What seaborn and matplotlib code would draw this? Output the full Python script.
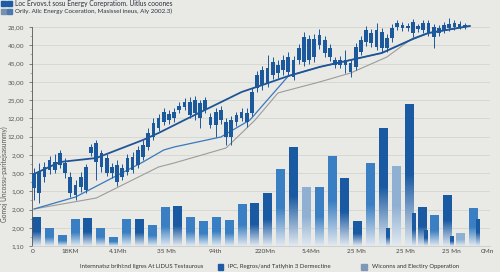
import numpy as np
import pandas as pd
import seaborn as sns
import matplotlib.pyplot as plt
from matplotlib.colors import LinearSegmentedColormap
from matplotlib.patches import Rectangle

# dados ----------------------------------------------------------------------------------
opens = [58, 74, 69, 76, 84, 81, 83, 69, 61, 59, 56, 93, 103, 93, 88, 73, 81, 69, 74, 76,
         81, 89, 99, 109, 118, 124, 132, 128, 136, 139, 144, 133, 143, 136, 129, 134, 126, 124, 109, 124,
         128, 133, 133, 158, 161, 163, 171, 181, 176, 174, 186, 186, 184, 207, 189, 201, 206, 198, 181, 186,
         181, 183, 179, 194, 204, 213, 199, 214, 198, 208, 219, 221, 218, 213, 217, 216, 223, 209, 218, 216,
         218, 219, 222, 219]
closes = [73, 53, 79, 86, 76, 93, 73, 53, 51, 69, 79, 99, 84, 79, 73, 79, 64, 78, 88, 89,
          96, 101, 113, 123, 128, 134, 126, 134, 140, 144, 131, 146, 128, 146, 121, 121, 136, 109, 126, 131,
          134, 124, 154, 171, 176, 178, 184, 173, 186, 189, 169, 198, 209, 186, 207, 211, 193, 189, 186, 181,
          186, 174, 199, 206, 216, 203, 216, 198, 208, 218, 223, 218, 220, 224, 220, 223, 213, 219, 213, 221,
          222, 223, 219, 221]
highs = [78, 83, 84, 90, 92, 96, 88, 74, 66, 74, 82, 102, 106, 96, 92, 83, 86, 82, 92, 94,
         100, 106, 118, 128, 132, 138, 136, 138, 144, 148, 149, 150, 146, 149, 133, 138, 140, 128, 130, 134,
         138, 138, 158, 175, 180, 191, 189, 186, 191, 194, 190, 202, 214, 211, 212, 217, 210, 202, 189, 190,
         196, 186, 203, 210, 220, 217, 223, 218, 212, 222, 226, 224, 223, 227, 222, 226, 226, 222, 221, 224,
         228, 226, 225, 223]
lows = [46, 43, 64, 72, 73, 78, 68, 49, 46, 54, 53, 90, 66, 74, 70, 68, 60, 66, 71, 73,
        78, 86, 96, 106, 115, 121, 122, 124, 133, 136, 128, 126, 118, 133, 118, 109, 122, 101, 101, 120,
        125, 119, 130, 154, 156, 159, 167, 168, 171, 170, 166, 182, 180, 182, 184, 197, 189, 185, 178, 178,
        173, 169, 176, 191, 200, 199, 196, 194, 194, 204, 216, 215, 215, 209, 214, 213, 210, 198, 210, 213,
        215, 216, 217, 217]

# medias moveis (posicao do pregao, valor)
ma_rapida_x = [0, 5, 12, 21, 24, 29, 40, 44, 49, 55, 61, 67, 73, 76, 84]
ma_rapida_y = [72, 84, 88, 106, 113, 126, 154, 161, 170, 179, 186, 193, 207, 213, 220]
ma_media_x = [0, 8, 21, 25, 27, 36, 41.6, 48, 49, 55, 61, 67, 73, 76, 84]
ma_media_y = [37, 49, 84, 96, 99, 109, 126, 164, 170, 179, 186, 193, 207, 213, 220]
ma_lenta_x = [0, 12, 24, 27, 37, 42.6, 47, 48.4, 55, 61, 68, 73, 76, 84]
ma_lenta_y = [37, 48, 79, 83, 98, 126, 153, 155, 164, 173, 189, 208, 213, 220]

# volume
volume = [29, 18, 11, 27, 28, 18, 9, 27, 27, 21, 39, 40, 29, 25, 29, 26, 42, 43, 53, 77,
          99, 59, 59, 90, 68, 25, 83, 118, 80, 142, 39, 31, 51, 13, 38]
tipo_vol = ['d', 'm', 'm', 'm', 'd', 'm', 'm', 'm', 'd', 'm', 'm', 'd', 'm', 'm', 'm', 'm', 'm', 'd', 'd', 'm',
            'd', 'l', 'm', 'm', 'd', 'd', 'm', 'd', 'l', 'd', 'd', 'm', 'd', 'l', 'm']
volume_extra = {27: 18, 29: 33, 30: 16, 32: 10, 34: 27}

y_labels = ['1,10', '2,00', '2,00', '1,00', '3,00', '2,00', '12,00', '12,00',
            '25,00', '30,00', '45,00', '40,00', '28,00']
x_labels = ['0', '18KM', '4.1Mh', '35 Mh', '94th', '220Mn', '5.4Mn', '25 Mh', '25 Mh', '25 Mn', '0Mn']
x_ticks = [-0.35, 6.9, 16.2, 25.6, 34.9, 44.5, 53.4, 62.2, 71.5, 80.4, 87.3]

# estilo ---------------------------------------------------------------------------------
bg = '#e9e9e5'
azul_escuro = '#1b589c'
cores_vol = {'d': '#1a5aa2', 'm': '#3a7fc3', 'l': '#8fb0d3'}

sns.set_theme(style='white')
plt.rcParams['font.family'] = ['Lato', 'DejaVu Sans']

fig = plt.figure(figsize=(5, 2.72), dpi=100, facecolor=bg)
ax = fig.add_axes([32 / 500, 26 / 272, 458 / 500, 231 / 272])
ax.set_facecolor(bg)

y_ticks = np.linspace(0, 219, 13)
for yt in y_ticks:
    ax.axhline(yt, color='#d5d5d0', lw=0.6, zorder=0)


# barras de volume com degrade
def barra_degrade(x, h, w, cor, z=2):
    rect = ax.bar(x, h, width=w, color=cor, edgecolor='none', zorder=z)[0]
    cmap = LinearSegmentedColormap.from_list('g', [(0, '#e2e9f0'), (0.5, cor), (1, cor)])
    grad = np.linspace(0, 1, 128).reshape(-1, 1)
    im = ax.imshow(grad, cmap=cmap, aspect='auto', origin='lower',
                   extent=(x - w / 2, x + w / 2, 0, h), zorder=z)
    im.set_clip_path(rect)


passo = 2.476
for i, (v, t) in enumerate(zip(volume, tipo_vol)):
    barra_degrade(0.39 + passo * i, v, 1.55, cores_vol[t])
for i, v in volume_extra.items():
    barra_degrade(0.39 + passo * i + 0.9, v, 0.7, cores_vol['d'], z=2.5)

# medias moveis
df_lenta = pd.DataFrame({'x': ma_lenta_x, 'y': ma_lenta_y})
df_media = pd.DataFrame({'x': ma_media_x, 'y': ma_media_y})
df_rapida = pd.DataFrame({'x': ma_rapida_x, 'y': ma_rapida_y})
sns.lineplot(data=df_lenta, x='x', y='y', color='#9c9c9c', lw=0.8, ax=ax, zorder=3)
sns.lineplot(data=df_media, x='x', y='y', color='#3a78bd', lw=0.9, ax=ax, zorder=3)
sns.lineplot(data=df_rapida, x='x', y='y', color='#1f5596', lw=1.3, ax=ax, zorder=3.2)

# candles
idx = np.arange(len(opens))
o = np.array(opens)
c = np.array(closes)
ax.vlines(idx, lows, highs, color=azul_escuro, lw=0.7, zorder=4)
ax.bar(idx, np.abs(c - o), bottom=np.minimum(o, c), width=0.72, color=azul_escuro,
       edgecolor='none', zorder=4.1)

# eixos
ax.set_xlim(-0.385, 87.86)
ax.set_ylim(0, 231)
ax.set_yticks(y_ticks)
ax.set_yticklabels(y_labels)
ax.set_yticks(y_ticks[:-1] + 219 / 24, minor=True)
ax.set_xticks(x_ticks)
ax.set_xticklabels(x_labels)
ax.tick_params(axis='y', which='major', length=2.5, width=0.5, color='#555555', pad=3,
               labelsize=4.6, labelcolor='#555555', left=True)
ax.tick_params(axis='y', which='minor', length=1.4, width=0.4, color='#777777', left=True)
ax.tick_params(axis='x', length=0, pad=2.5, labelsize=4.6, labelcolor='#444444')
ax.set_xlabel('')
ax.set_ylabel('Gomoj Uncossu-paritejsasummy)', fontsize=4.8, color='#555555')
ax.yaxis.set_label_coords(-0.052, 0.31)
for s in ['top', 'right']:
    ax.spines[s].set_visible(False)
ax.spines['left'].set_color('#555555')
ax.spines['left'].set_linewidth(0.6)
ax.spines['left'].set_bounds(0, 219)
ax.spines['bottom'].set_color('#c4c4c0')
ax.spines['bottom'].set_linewidth(0.5)

# titulo com quadrados
fig.patches.append(Rectangle((1 / 500, 1 - 6 / 272), 5 / 500, 5 / 272, color='#1f5aa5', transform=fig.transFigure))
fig.patches.append(Rectangle((7 / 500, 1 - 6 / 272), 5 / 500, 5 / 272, color='#1f5aa5', transform=fig.transFigure))
fig.patches.append(Rectangle((1 / 500, 1 - 14 / 272), 5 / 500, 5 / 272, color='#7890ad', transform=fig.transFigure))
fig.patches.append(Rectangle((7 / 500, 1 - 14 / 272), 5 / 500, 5 / 272, color='#4b79ad', transform=fig.transFigure))
fig.text(15 / 500, 1 - 3.5 / 272, 'Loc Ervovs.t sosu Energy Corepratiom. Uitlus cooones',
         fontsize=4.8, color='#2b3142', va='center', ha='left')
fig.text(15 / 500, 1 - 11.5 / 272, 'Orily. Allc Energy Coceration, Masissel ineus, Aly 2002.3)',
         fontsize=4.5, color='#2b3142', va='center', ha='left')

# legenda inferior
fig.text(80 / 500, 1 - 266.5 / 272, 'Internnatsz brihl:nd ligres At LIDUS Testaurous',
         fontsize=4.35, color='#333333', va='center', ha='left')
fig.patches.append(Rectangle((218 / 500, 1 - 269.5 / 272), 5 / 500, 6 / 272, color='#1f5aa5', transform=fig.transFigure))
fig.text(228 / 500, 1 - 266.5 / 272, 'IPC, Regros/and Tatlyhin 3 Dermectine',
         fontsize=4.35, color='#333333', va='center', ha='left')
fig.patches.append(Rectangle((361 / 500, 1 - 269.5 / 272), 6 / 500, 6 / 272, color='#7f98b5', transform=fig.transFigure))
fig.text(372 / 500, 1 - 266.5 / 272, 'Wiconns and Electiry Opperation',
         fontsize=4.35, color='#333333', va='center', ha='left')

fig.savefig('out.png', dpi=100, facecolor=bg)
